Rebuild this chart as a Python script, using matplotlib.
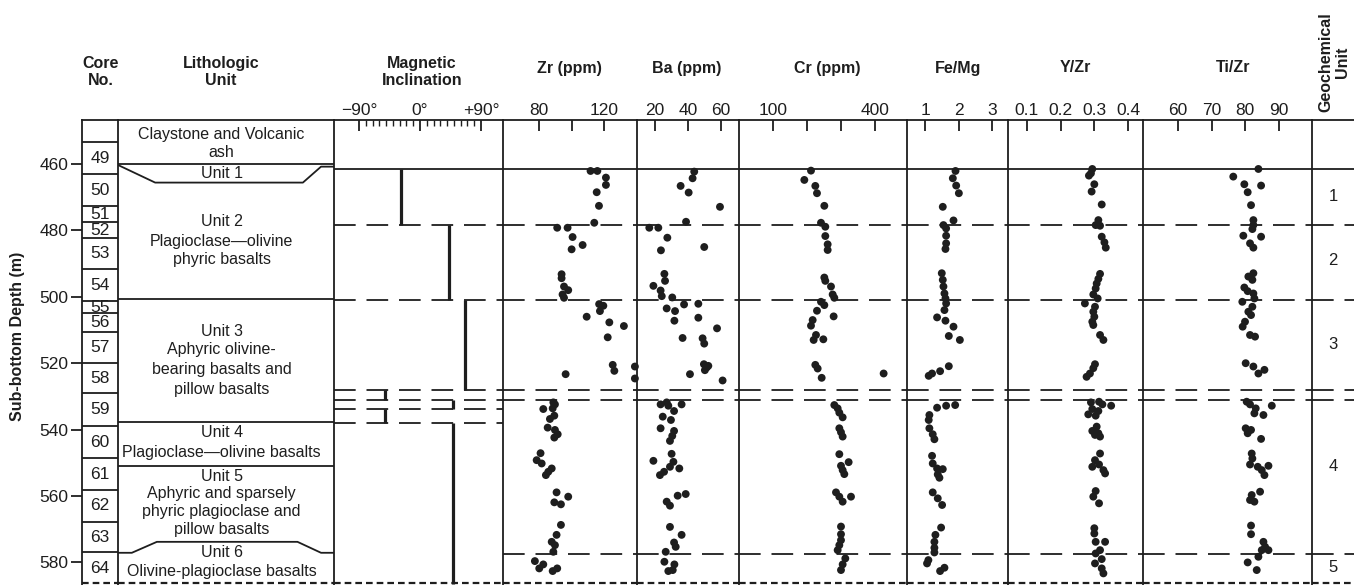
import matplotlib
matplotlib.use("Agg")
import matplotlib.pyplot as plt

plt.rcParams['font.family'] = ['Liberation Sans', 'DejaVu Sans']

INK = '#1e1e1e'

# ---------------- data ----------------
core_numbers = list(range(49, 65))
core_tops = [453.4, 463.0, 472.7, 477.5, 482.3, 491.6, 501.3, 504.9, 510.6,
             520.0, 529.0, 538.9, 548.6, 558.2, 567.8, 576.9]
core_base = 586.5

# magnetic inclination polarity intervals (top, bottom, inclination in degrees)
mag_top = [461.5, 478.5, 501.0, 528.0, 531.0, 533.7, 537.9]
mag_bot = [478.5, 501.0, 528.0, 531.0, 533.7, 537.9, 586.5]
mag_incl = [-28, 43, 66, -52, 49, -52, 49]

zr_depth = [462.1, 462.1, 464.1, 466.3, 468.5, 472.6, 477.7, 479.2, 479.2, 482.0,
            484.4, 485.7, 493.2, 494.4, 496.9, 498.0, 499.3, 500.3, 502.2, 502.7,
            504.3, 506.0, 507.7, 508.8, 512.2, 520.5, 522.3, 521.0, 524.6, 523.3,
            531.8, 532.4, 533.6, 533.8, 535.8, 536.8, 539.4, 540.1, 541.4, 542.4,
            547.1, 549.2, 550.2, 551.7, 552.7, 553.7, 558.9, 560.2, 561.9, 562.5,
            568.7, 571.7, 573.8, 574.8, 576.8, 579.6, 580.6, 581.8, 582.6, 581.8]
zr_ppm = [111.7, 115.9, 121.2, 121.2, 115.5, 116.9, 114.0, 91.1, 97.5, 100.6,
          106.8, 100.0, 93.8, 93.8, 95.3, 97.9, 94.4, 95.3, 117.0, 119.6,
          117.5, 109.3, 123.3, 132.3, 122.3, 125.4, 126.4, 139.1, 139.1, 96.3,
          88.7, 89.7, 88.3, 82.5, 89.3, 86.6, 85.2, 89.7, 91.4, 89.3,
          80.8, 78.4, 81.5, 87.7, 85.6, 84.1, 90.7, 97.9, 89.3, 93.4,
          93.4, 90.7, 87.7, 89.7, 88.7, 77.3, 82.5, 80.0, 88.3, 91.1]

ba_depth = [462.3, 464.3, 466.6, 468.6, 472.9, 477.4, 479.2, 479.2, 482.2, 486.0,
            485.0, 493.1, 495.2, 496.7, 498.1, 499.8, 500.2, 502.3, 502.1, 503.5,
            504.3, 507.2, 506.3, 509.5, 512.4, 512.5, 514.1, 520.3, 521.3, 520.8,
            522.1, 523.3, 525.2, 532.4, 531.8, 532.8, 532.4, 534.4, 536.1, 537.1,
            539.6, 540.4, 541.9, 543.4, 547.3, 549.4, 549.7, 551.2, 551.7, 553.7,
            552.7, 559.9, 559.4, 561.7, 562.9, 569.3, 571.7, 574.0, 575.3, 576.8,
            579.8, 580.6, 582.3, 582.6]
ba_ppm = [43.9, 42.9, 35.6, 40.5, 59.6, 38.9, 16.5, 22.0, 27.5, 23.6,
          50.0, 25.7, 26.1, 19.0, 23.4, 24.1, 30.5, 37.7, 46.4, 27.1,
          32.2, 31.8, 46.4, 57.8, 36.8, 49.0, 50.0, 49.8, 51.5, 52.5,
          50.4, 41.3, 61.2, 23.4, 27.1, 28.1, 36.2, 31.6, 24.7, 29.7,
          23.4, 31.6, 30.5, 29.1, 30.1, 19.0, 31.2, 29.1, 34.8, 23.0,
          25.5, 33.8, 38.7, 27.1, 29.1, 29.1, 36.2, 31.6, 32.6, 26.5,
          25.7, 31.8, 30.8, 28.1]

cr_depth = [462.0, 464.8, 466.6, 468.8, 472.6, 477.7, 478.9, 481.7, 484.2, 485.9,
            494.2, 495.2, 496.9, 499.3, 500.3, 501.5, 502.5, 504.2, 505.9, 507.0,
            508.7, 511.5, 513.0, 512.8, 520.5, 521.6, 524.4, 523.1, 532.6, 533.6,
            534.9, 536.3, 539.6, 540.8, 542.1, 547.4, 549.8, 550.9, 552.2, 553.4,
            558.9, 560.2, 561.7, 560.2, 569.2, 571.5, 573.3, 574.8, 576.3, 578.8,
            580.6, 582.3]
cr_ppm = [211.7, 192.1, 224.4, 229.3, 250.9, 241.1, 253.8, 253.8, 260.7, 260.7,
          250.9, 253.8, 270.5, 275.4, 280.3, 241.1, 250.9, 229.3, 278.3, 216.6,
          211.7, 226.4, 219.5, 248.0, 224.4, 231.3, 243.1, 425.3, 280.3, 290.1,
          295.0, 304.8, 295.0, 299.9, 304.8, 295.0, 322.4, 299.9, 304.8, 309.7,
          285.2, 295.0, 304.8, 329.3, 299.9, 299.9, 299.9, 295.0, 290.1, 312.6,
          304.8, 299.9]

femg_depth = [462.1, 464.3, 466.5, 468.8, 472.9, 477.0, 478.4, 479.4, 481.6, 483.9,
              485.6, 492.9, 494.9, 496.9, 499.0, 500.5, 502.0, 504.0, 506.2, 507.2,
              509.0, 511.8, 513.0, 523.8, 523.1, 522.4, 520.9, 533.4, 532.8, 532.6,
              535.6, 537.1, 539.6, 541.4, 542.9, 547.9, 550.2, 551.7, 551.9, 553.5,
              554.5, 558.9, 560.7, 562.7, 569.5, 571.7, 573.8, 575.6, 577.0, 579.3,
              580.3, 581.6, 582.6]
femg_ratio = [1.91, 1.83, 1.93, 2.01, 1.53, 1.85, 1.55, 1.63, 1.63, 1.63,
              1.61, 1.50, 1.53, 1.55, 1.58, 1.61, 1.63, 1.58, 1.36, 1.61,
              1.85, 1.71, 2.04, 1.11, 1.21, 1.45, 1.71, 1.36, 1.63, 1.90,
              1.13, 1.11, 1.13, 1.23, 1.28, 1.21, 1.23, 1.36, 1.53, 1.38,
              1.43, 1.23, 1.38, 1.51, 1.48, 1.31, 1.28, 1.28, 1.28, 1.10,
              1.06, 1.58, 1.45]

yzr_depth = [461.5, 462.8, 463.5, 466.1, 468.3, 472.2, 476.9, 478.4, 478.6, 481.9,
             483.6, 485.2, 493.1, 494.6, 496.0, 497.5, 499.3, 502.0, 500.5, 503.0,
             504.5, 506.0, 507.5, 508.5, 511.5, 513.0, 520.3, 521.5, 523.1, 524.1,
             531.8, 531.6, 532.4, 532.8, 533.8, 534.4, 535.4, 535.8, 539.1, 540.4,
             541.1, 541.6, 542.1, 547.2, 549.2, 550.5, 551.2, 552.2, 553.2, 558.5,
             560.2, 562.2, 569.7, 571.3, 573.8, 573.8, 576.3, 577.3, 579.0, 580.3,
             581.8, 583.3]
yzr_ratio = [0.294, 0.290, 0.284, 0.300, 0.292, 0.322, 0.312, 0.304, 0.317, 0.322,
             0.330, 0.334, 0.317, 0.312, 0.307, 0.304, 0.297, 0.272, 0.310, 0.302,
             0.297, 0.300, 0.294, 0.297, 0.317, 0.327, 0.302, 0.297, 0.287, 0.277,
             0.290, 0.314, 0.324, 0.350, 0.294, 0.312, 0.282, 0.304, 0.307, 0.294,
             0.312, 0.302, 0.317, 0.317, 0.302, 0.314, 0.294, 0.327, 0.332, 0.304,
             0.297, 0.314, 0.300, 0.300, 0.304, 0.332, 0.317, 0.304, 0.322, 0.302,
             0.322, 0.327]

tizr_depth = [461.5, 463.8, 466.5, 466.1, 468.5, 472.4, 476.9, 478.4, 479.6, 481.6,
              481.9, 483.9, 485.2, 492.9, 493.9, 494.9, 497.2, 498.3, 499.0, 501.5,
              500.5, 503.0, 504.5, 505.5, 507.5, 509.0, 511.5, 512.0, 520.0, 521.0,
              522.0, 523.1, 531.6, 532.4, 533.6, 532.8, 535.1, 535.6, 539.6, 540.1,
              541.1, 542.8, 547.2, 548.7, 550.5, 551.2, 550.9, 552.2, 553.7, 559.7,
              558.7, 561.2, 561.7, 568.9, 571.5, 573.8, 575.3, 576.3, 576.3, 578.3,
              580.0, 582.3]
tizr_ratio = [84.0, 76.5, 84.8, 79.8, 80.8, 81.8, 82.5, 82.5, 82.2, 79.5,
              84.8, 81.5, 82.5, 82.5, 81.0, 82.2, 79.8, 80.8, 82.5, 79.2,
              82.8, 82.2, 81.0, 81.8, 80.0, 79.3, 81.5, 83.0, 80.2, 82.5,
              85.8, 84.0, 80.5, 81.5, 83.2, 88.0, 82.8, 85.5, 80.2, 81.8,
              80.8, 84.8, 82.0, 82.2, 81.5, 83.8, 87.0, 85.0, 85.8, 82.0,
              84.5, 81.5, 82.8, 81.8, 81.8, 85.5, 86.0, 85.0, 87.0, 84.0,
              80.8, 83.5]

geochem_units = ['1', '2', '3', '4', '5']
geochem_depth = [469.8, 489.2, 514.5, 551.2, 581.5]

# lithologic unit captions: (depth of line, text)
lith_text = [
    (451.1, 'Claystone and Volcanic'), (456.6, 'ash'),
    (462.8, 'Unit 1'),
    (477.4, 'Unit 2'), (483.2, 'Plagioclase\u2014olivine'), (488.9, 'phyric basalts'),
    (510.3, 'Unit 3'), (516.0, 'Aphyric olivine-'), (521.8, 'bearing basalts and'),
    (527.8, 'pillow basalts'),
    (540.9, 'Unit 4'), (546.9, 'Plagioclase\u2014olivine basalts'),
    (554.0, 'Unit 5'), (559.2, 'Aphyric and sparsely'), (564.7, 'phyric plagioclase and'),
    (570.0, 'pillow basalts'),
    (577.0, 'Unit 6'), (582.8, 'Olivine-plagioclase basalts'),
]
lith_lines = [460.0, 500.8, 537.6, 551.1]
unit1_x = [0.0, 0.172, 0.856, 0.94, 1.0]
unit1_d = [460.3, 465.6, 465.6, 460.8, 460.8]
unit6_x = [0.0, 0.064, 0.18, 0.831, 0.94, 1.0]
unit6_d = [577.1, 577.1, 573.8, 573.8, 577.1, 577.1]

# dashed correlation lines
data_dashes = [478.5, 501.0, 528.0, 531.0, 577.6]
mag_dashes = [478.5, 501.0, 528.0, 531.0, 533.7, 537.9]
top_solid = 461.5
base_line = 586.3

# ---------------- layout ----------------
W, H = 1354, 585
fig = plt.figure(figsize=(W / 100, H / 100), dpi=100)
fig.patch.set_facecolor('white')

TOP_PX, BOT_PX = 120, 585
DEPTH_TOP, DEPTH_BOT = 446.75, 586.8


def column(x0, x1, xlim=(0, 1), right=False):
    ax = fig.add_axes([x0 / W, 1 - BOT_PX / H, (x1 - x0) / W, (BOT_PX - TOP_PX) / H])
    ax.set_xlim(*xlim)
    ax.set_ylim(DEPTH_BOT, DEPTH_TOP)
    ax.spines['bottom'].set_visible(False)
    ax.spines['right'].set_visible(right)
    for s in ('left', 'top', 'right'):
        ax.spines[s].set_linewidth(1.3)
        ax.spines[s].set_color(INK)
    ax.set_xticks([])
    ax.set_yticks([])
    ax.patch.set_alpha(0)
    return ax


def base(ax):
    ax.axhline(base_line, color=INK, lw=1.6, ls=(0, (3, 1.8)), clip_on=False)


def top_ticks(ax, ticks, labels):
    ax.xaxis.set_ticks_position('top')
    ax.set_xticks(ticks)
    ax.set_xticklabels(labels)
    ax.tick_params(axis='x', direction='in', length=8, width=1.3, color=INK,
                   pad=1.5, labelsize=12.5, labelcolor=INK,
                   top=True, bottom=False, labeltop=True, labelbottom=False)


def separators(ax, dashed):
    ax.axhline(top_solid, color=INK, lw=1.3)
    for d in dashed:
        ax.axhline(d, color=INK, lw=1.3, ls=(0, (12, 6)))
    base(ax)


# core column
ax_core = column(82, 118)
for t in core_tops:
    ax_core.axhline(t, color=INK, lw=1.3)
bounds = core_tops + [core_base]
for n, a, b in zip(core_numbers, bounds[:-1], bounds[1:]):
    ax_core.text(0.5, (a + b) / 2, str(n), ha='center', va='center',
                 fontsize=12.5, color=INK)
ax_core.set_yticks([460, 480, 500, 520, 540, 560, 580])
ax_core.tick_params(axis='y', direction='out', length=8, width=1.3, color=INK,
                    pad=2, labelsize=12.5, labelcolor=INK)
base(ax_core)

# lithologic column
ax_lith = column(118, 334)
for d in lith_lines:
    ax_lith.axhline(d, color=INK, lw=1.3)
ax_lith.plot(unit1_x, unit1_d, color=INK, lw=1.3)
ax_lith.plot(unit6_x, unit6_d, color=INK, lw=1.3)
for d, s in lith_text:
    ax_lith.text(0.48, d, s, ha='center', va='center', fontsize=11.5, color=INK)
base(ax_lith)

# magnetic inclination column
ax_mag = column(334, 503, xlim=(-126.9, 122.5))
ax_mag.xaxis.set_ticks_position('top')
ax_mag.set_xticks([-90, 0, 90])
ax_mag.set_xticklabels(['\u221290\u00b0', '0\u00b0', '+90\u00b0'])
ax_mag.set_xticks(list(range(-80, 90, 10)), minor=True)
ax_mag.tick_params(axis='x', which='major', direction='in', length=8, width=1.3,
                   color=INK, pad=1.5, labelsize=12.5, labelcolor=INK,
                   top=True, bottom=False, labeltop=True, labelbottom=False)
ax_mag.tick_params(axis='x', which='minor', direction='in', length=4.5, width=1.0,
                   color=INK, top=True, bottom=False)
separators(ax_mag, mag_dashes)
ax_mag.vlines(mag_incl, mag_top, mag_bot, color=INK, lw=2.3)

# geochemical columns
columns = [
    (503, 637, (57.6, 140.4), zr_ppm, zr_depth, [80, 100, 120], ['80', '', '120']),
    (637, 739, (9.0, 71.2), ba_ppm, ba_depth, [20, 40, 60], ['20', '40', '60']),
    (739, 907, (0.0, 494.0), cr_ppm, cr_depth, [100, 200, 300, 400], ['100', '', '', '400']),
    (907, 1008, (0.462, 3.477), femg_ratio, femg_depth, [1, 2, 3], ['1', '2', '3']),
    (1008, 1143, (0.0436, 0.4446), yzr_ratio, yzr_depth, [0.1, 0.2, 0.3, 0.4],
     ['0.1', '0.2', '0.3', '0.4']),
    (1143, 1312, (49.55, 100.0), tizr_ratio, tizr_depth, [60, 70, 80, 90],
     ['60', '70', '80', '90']),
]
for x0, x1, lim, vals, depth, ticks, labels in columns:
    ax = column(x0, x1, xlim=lim)
    top_ticks(ax, ticks, labels)
    separators(ax, data_dashes)
    ax.scatter(vals, depth, s=32, color=INK, edgecolors='none', zorder=3, clip_on=False)

# geochemical unit column
ax_geo = column(1312, 1360)
separators(ax_geo, data_dashes)
for lab, d in zip(geochem_units, geochem_depth):
    ax_geo.text(0.44, d, lab, ha='center', va='center', fontsize=12, color=INK)

# ---------------- headers ----------------
def header(xp, yp, s, **kw):
    fig.text(xp / W, 1 - yp / H, s, ha='center', va='center', fontsize=11.5,
             fontweight='bold', color=INK, linespacing=1.15, **kw)

header(101, 72, 'Core\nNo.')
header(221, 72, 'Lithologic\nUnit')
header(422, 72, 'Magnetic\nInclination')
header(569, 68, 'Zr (ppm)')
header(687, 68, 'Ba (ppm)')
header(827, 68, 'Cr (ppm)')
header(958, 68, 'Fe/Mg')
header(1075, 68, 'Y/Zr')
header(1233, 68, 'Ti/Zr')
header(1334, 62, 'Geochemical\nUnit', rotation=90, multialignment='center')
header(18, 336, 'Sub-bottom Depth (m)', rotation=90)

fig.savefig('out.png', dpi=100, facecolor='white')
